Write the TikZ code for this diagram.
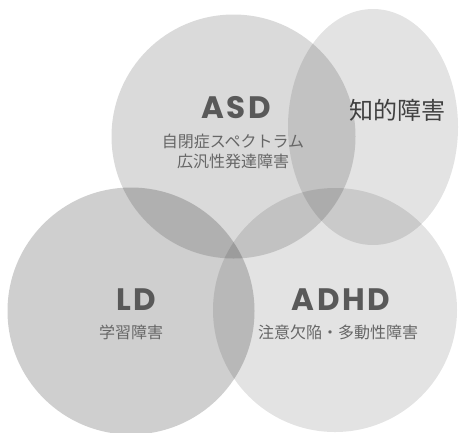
\documentclass[tikz,border=0pt]{standalone}
\usepackage{fontspec}
\newfontfamily\cjk{Noto Sans CJK JP}
\newfontfamily\lat{Poppins}[LetterSpace=8]
\begin{document}
\begin{tikzpicture}[x=1pt,y=-1pt,
  blob/.style={fill=black,draw=none},
  big/.style={font=\lat\bfseries\fontsize{31}{31}\selectfont,text=black!65,inner sep=0pt},
  sub/.style={font=\cjk\fontsize{16}{20}\selectfont,text=black!60,inner sep=0pt,align=center},
  iq/.style={font=\cjk\fontsize{24}{24}\selectfont,text=black!75,inner sep=0pt}]
\useasboundingbox (0,0) rectangle (460,432);
\fill[white] (0,0) rectangle (460,432);
% circles
\fill[blob,fill opacity=0.145] (233.5,136.5) circle[radius=122];
\fill[blob,fill opacity=0.11] (373,127) ellipse[x radius=85,y radius=118];
\fill[blob,fill opacity=0.19] (131,311) circle[radius=123.5];
\fill[blob,fill opacity=0.11] (335,310) circle[radius=122];
% texts
\node[big] (asd) at (236,108) {ASD};
\node[sub] (asdsub) at (233,151) {自閉症スペクトラム\\広汎性発達障害};
\node[iq] (iq) at (397,110) {知的障害};
\node[big] (ld) at (136,300) {LD};
\node[sub] (ldsub) at (131,332) {学習障害};
\node[big] (adhd) at (341,300) {ADHD};
\node[sub] (adhdsub) at (338,332) {注意欠陥・多動性障害};
\end{tikzpicture}
\end{document}
